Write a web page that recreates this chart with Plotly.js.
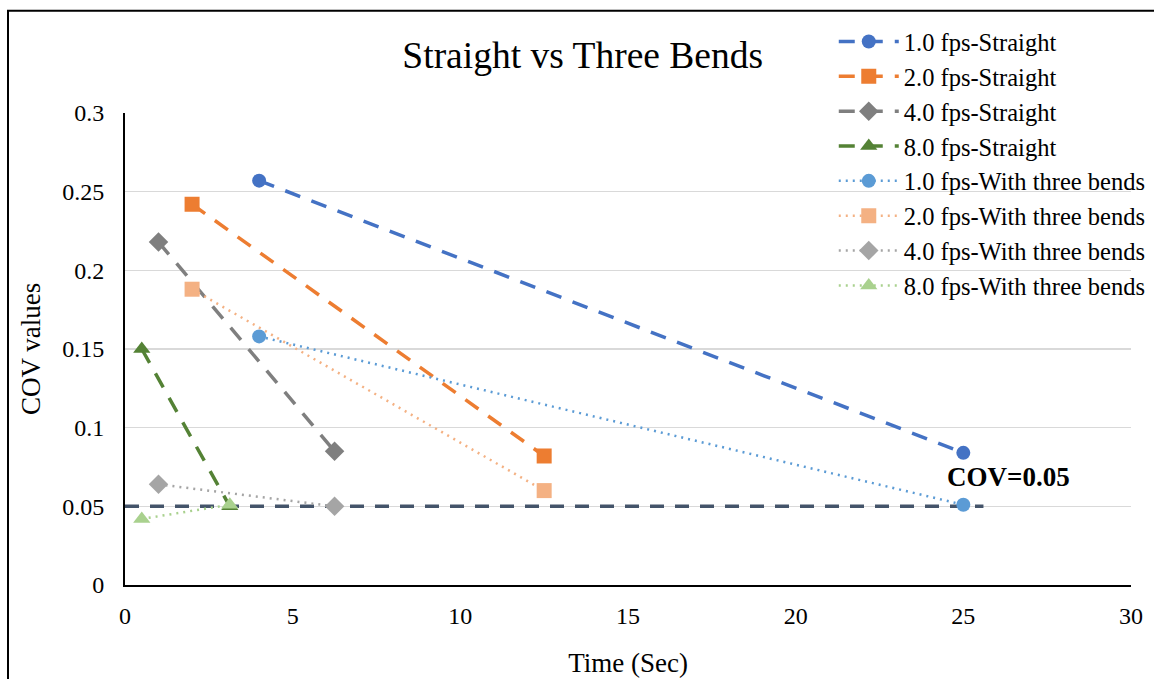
<!DOCTYPE html>
<html>
<head>
<meta charset="utf-8">
<script src="https://cdn.plot.ly/plotly-3.0.1.min.js"></script>
<style>html,body{margin:0;padding:0;background:#fff;}#chart{width:1154px;height:679px;}</style>
</head>
<body>
<div id="chart"></div>
<script>
const seriesNames = ["1.0 fps-Straight","2.0 fps-Straight","4.0 fps-Straight","8.0 fps-Straight",
  "1.0 fps-With three bends","2.0 fps-With three bends","4.0 fps-With three bends","8.0 fps-With three bends"];
const timeStraight1 = [4, 25];       const covStraight1 = [0.257, 0.084];
const timeStraight2 = [2, 12.5];     const covStraight2 = [0.242, 0.082];
const timeStraight4 = [1, 6.25];     const covStraight4 = [0.218, 0.085];
const timeStraight8 = [0.5, 3.125];  const covStraight8 = [0.150, 0.050];
const timeBends1 = [4, 25];          const covBends1 = [0.158, 0.051];
const timeBends2 = [2, 12.5];        const covBends2 = [0.188, 0.060];
const timeBends4 = [1, 6.25];        const covBends4 = [0.064, 0.050];
const timeBends8 = [0.5, 3.125];     const covBends8 = [0.042, 0.051];
const covLimitX = [0, 25.6];         const covLimitY = [0.05, 0.05];
const covLabel = "COV=0.05";

const xs = [timeStraight1,timeStraight2,timeStraight4,timeStraight8,timeBends1,timeBends2,timeBends4,timeBends8];
const ys = [covStraight1,covStraight2,covStraight4,covStraight8,covBends1,covBends2,covBends4,covBends8];
const colors = ["#4472c4","#ed7d31","#7f7f7f","#548235","#5b9bd5","#f4b183","#a5a5a5","#a9d18e"];
const symbols = ["circle","square","diamond","triangle-up","circle","square","diamond","triangle-up"];

const traces = [];
traces.push({x: covLimitX, y: covLimitY, mode: "lines", showlegend: false, hoverinfo: "skip",
  line: {color: "#44546a", width: 3.5, dash: "14px,11px"}});
for (let i = 0; i < 8; i++) {
  const straight = i < 4;
  traces.push({
    x: xs[i], y: ys[i], name: seriesNames[i], mode: "lines+markers", legendgroup: "g" + i,
    line: {color: colors[i], width: straight ? 3.5 : 2.5, dash: straight ? "16px,12px" : "2px,5px"},
    marker: {color: colors[i], symbol: symbols[i], size: symbols[i] === "circle" ? 14 : 15}
  });
}

const layout = {
  width: 1154, height: 679,
  margin: {l: 125, r: 23, t: 113, b: 94, autoexpand: false},
  paper_bgcolor: "#fff", plot_bgcolor: "#fff",
  font: {family: "Liberation Serif, Times New Roman, serif", color: "#000", size: 24},
  title: {text: "Straight vs Three Bends", font: {size: 37.5, color: "#000"}, xref: "paper", x: 0.455, xanchor: "center", yref: "container", y: 0.919, yanchor: "middle"},
  xaxis: {range: [0, 30], dtick: 5, showgrid: false, zeroline: false, showline: true, linecolor: "#000", linewidth: 2,
    ticks: "outside", ticklen: 8, tickcolor: "rgba(0,0,0,0)", tickfont: {size: 24}, title: {text: "Time (Sec)", font: {size: 27}, standoff: 25}},
  yaxis: {range: [0, 0.3], dtick: 0.05, showgrid: true, gridcolor: "#d9d9d9", gridwidth: 1.5, zeroline: false,
    showline: true, linecolor: "#000", linewidth: 2, ticks: "outside", ticklen: 14, tickcolor: "rgba(0,0,0,0)", tickfont: {size: 24}, tickformat: "~g",
    title: {text: "COV values", font: {size: 27}, standoff: 14}},
  legend: {xref: "container", yref: "container", x: 0.7225, y: 0.972, xanchor: "left", yanchor: "top", bgcolor: "rgba(0,0,0,0)", font: {size: 24.5},
    traceorder: "grouped", tracegroupgap: 0, itemwidth: 60},
  annotations: [{x: 26.35, y: 0.05, xref: "x", yref: "y", text: "<b>" + covLabel + "</b>", showarrow: false,
    xanchor: "center", yanchor: "bottom", yshift: 12, font: {size: 27, color: "#000"}}],
  shapes: [{type: "rect", xref: "paper", yref: "paper", x0: -0.1163, x1: 1.05, y0: -0.3, y1: 1.2165,
    line: {color: "#000", width: 2}, fillcolor: "rgba(0,0,0,0)"}]
};
Plotly.newPlot("chart", traces, layout, {displayModeBar: false, staticPlot: true});
</script>
</body>
</html>
